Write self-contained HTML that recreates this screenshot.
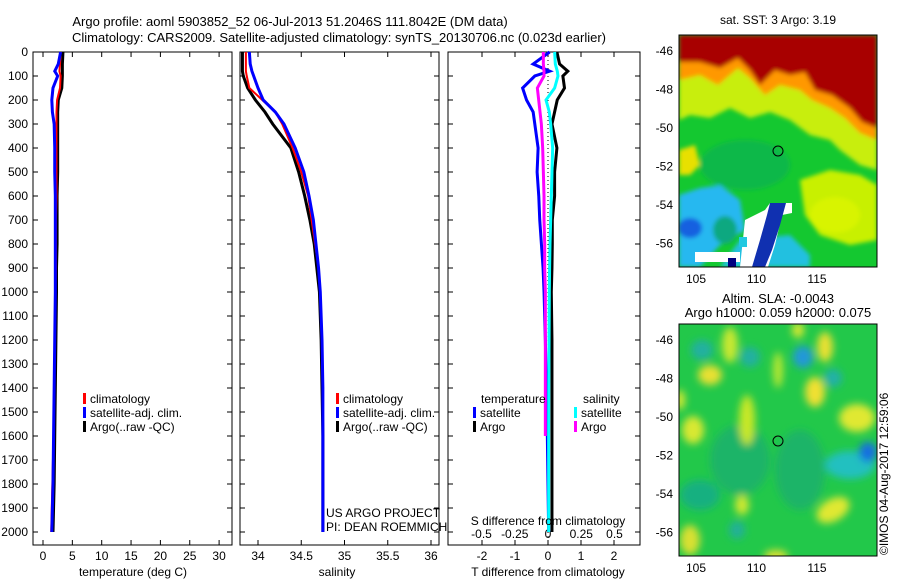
<!DOCTYPE html>
<html><head><meta charset="utf-8"><style>
body{margin:0;background:#fff;}
svg{display:block;font-family:"Liberation Sans",sans-serif;font-size:12px;}
</style></head><body>
<svg id="fig" width="900" height="580" viewBox="0 0 900 580">
<defs>
<filter id="bl" x="-50%" y="-50%" width="200%" height="200%"><feGaussianBlur stdDeviation="4"/></filter>
<filter id="bl2" x="-20%" y="-20%" width="140%" height="140%"><feGaussianBlur stdDeviation="2"/></filter>
<clipPath id="c1"><rect x="679" y="35" width="198" height="232"/></clipPath>
<clipPath id="c2"><rect x="679" y="324" width="198" height="232"/></clipPath>
</defs>
<text x="290" y="26" text-anchor="middle" font-size="13">Argo profile: aoml 5903852_52 06-Jul-2013 51.2046S 111.8042E (DM data)</text>
<text x="339" y="42" text-anchor="middle" font-size="13">Climatology: CARS2009. Satellite-adjusted climatology: synTS_20130706.nc (0.023d earlier)</text>
<g id="plots"></g>
<text x="778" y="24" text-anchor="middle">sat. SST: 3 Argo: 3.19</text>
<g clip-path="url(#c1)">
<rect x="679" y="35" width="198" height="232" fill="#14c830"/>
<g filter="url(#bl2)">
<path d="M679 35H877V170L860 165 840 150 830 140 810 135 790 120 770 112 750 118 730 108 710 118 690 115 679 120Z" fill="#c8ee10"/>
<path d="M679 150L695 145 700 165 690 175 679 175Z" fill="#e8e000"/>
<path d="M800 180L830 170 860 175 877 185V240L850 245 820 235 805 215Z" fill="#c8f000"/>
<ellipse cx="835" cy="215" rx="25" ry="18" fill="#d8f400"/>
<path d="M679 35H877V140L860 133 845 118 830 108 812 100 800 90 780 85 765 95 750 78 738 68 718 85 700 75 679 80Z" fill="#ff9800"/>
<path d="M679 35H877V128L862 122 850 108 832 95 815 90 805 72 790 75 775 70 760 85 750 70 738 58 720 68 700 62 679 62Z" fill="#a80000"/>
<ellipse cx="745" cy="165" rx="45" ry="25" fill="#10b848"/>
<path d="M679 195L700 188 720 185 740 200 745 230 720 245 700 267H679Z" fill="#28b8f0"/>
<ellipse cx="690" cy="228" rx="12" ry="10" fill="#1860e0"/>
<ellipse cx="725" cy="230" rx="12" ry="14" fill="#10a880"/>
<path d="M720 267L740 240 790 235 810 255 810 267Z" fill="#20c0e0"/>
</g>
<path d="M740 267L745 220 765 210 770 203 792 203 792 213 782 215 775 245 768 267Z" fill="#fff"/>
<path d="M695 252H740V262H695Z" fill="#fff"/>
<path d="M770 203L786 203 780 225 772 250 765 267 752 267 760 240 767 215Z" fill="#1030b0"/>
<rect x="728" y="258" width="8" height="9" fill="#000080"/>
<rect x="739" y="237" width="8" height="10" fill="#20c8e0"/>
<circle cx="778" cy="151" r="5" fill="none" stroke="#000"/>
</g>
<rect x="679" y="35" width="198" height="232" fill="none" stroke="#000"/>
<text x="778" y="303" text-anchor="middle" font-size="13">Altim. SLA: -0.0043</text>
<text x="778" y="317" text-anchor="middle" font-size="13">Argo h1000: 0.059 h2000: 0.075</text>
<g clip-path="url(#c2)">
<rect x="679" y="324" width="198" height="232" fill="#22c84a"/>
<g filter="url(#bl)">
<ellipse cx="740" cy="460" rx="30" ry="35" fill="#1cb468"/>
<ellipse cx="800" cy="470" rx="25" ry="40" fill="#1cb468"/>
<ellipse cx="700" cy="495" rx="20" ry="15" fill="#18b080"/>
<ellipse cx="702" cy="350" rx="11" ry="10" fill="#20b0a0"/>
<ellipse cx="710" cy="375" rx="12" ry="10" fill="#e8e030"/>
<ellipse cx="730" cy="345" rx="8" ry="18" fill="#c8e830"/>
<ellipse cx="747" cy="420" rx="8" ry="25" fill="#c8e828"/>
<ellipse cx="693" cy="430" rx="11" ry="14" fill="#d8e830"/>
<ellipse cx="750" cy="357" rx="10" ry="10" fill="#20b0a0"/>
<ellipse cx="803" cy="357" rx="10" ry="11" fill="#2098d8"/>
<ellipse cx="825" cy="347" rx="8" ry="15" fill="#e8e030"/>
<ellipse cx="815" cy="392" rx="10" ry="15" fill="#f0e030"/>
<ellipse cx="833" cy="378" rx="9" ry="9" fill="#20b0a8"/>
<ellipse cx="857" cy="418" rx="18" ry="14" fill="#e0e830"/>
<ellipse cx="850" cy="465" rx="25" ry="14" fill="#20c0c0"/>
<ellipse cx="868" cy="452" rx="9" ry="10" fill="#1870e0"/>
<ellipse cx="833" cy="510" rx="18" ry="11" fill="#e0e830" transform="rotate(-30 833 510)"/>
<ellipse cx="742" cy="505" rx="7" ry="10" fill="#d0e830"/>
<ellipse cx="690" cy="540" rx="10" ry="15" fill="#d8e030"/>
<ellipse cx="737" cy="530" rx="8" ry="9" fill="#20b098"/>
<ellipse cx="776" cy="556" rx="12" ry="6" fill="#e0e030"/>
<ellipse cx="798" cy="330" rx="6" ry="8" fill="#d8e830"/>
<ellipse cx="778" cy="370" rx="5" ry="18" fill="#b8e830"/>
<ellipse cx="680" cy="400" rx="5" ry="10" fill="#d8e830"/>
</g>
<circle cx="778" cy="441" r="5" fill="none" stroke="#000"/>
</g>
<rect x="679" y="324" width="198" height="232" fill="none" stroke="#000"/>
<text transform="translate(888,555) rotate(-90)" font-size="12">©IMOS 04-Aug-2017 12:59:06</text>
</svg>
<script>
// ---- data ----
const depths = [0,50,80,100,150,200,250,300,400,500,600,700,800,900,1000,1200,1400,1600,1800,2000];
const tempClim = [3.0,2.9,2.8,3.0,2.9,2.4,2.3,2.3,2.3,2.3,2.3,2.2,2.2,2.2,2.1,2.0,1.9,1.8,1.6,1.4];
const tempSat  = [3.0,2.6,2.0,2.5,1.7,1.5,1.6,1.9,2.0,2.0,2.1,2.1,2.1,2.1,2.1,2.0,1.9,1.8,1.7,1.5];
const tempArgo = [3.4,3.3,3.3,3.3,3.2,2.6,2.5,2.5,2.5,2.5,2.4,2.4,2.4,2.3,2.3,2.2,2.1,2.0,1.9,1.7];
const salClim  = [33.86,33.86,33.86,33.87,33.90,34.05,34.20,34.28,34.40,34.50,34.58,34.62,34.66,34.70,34.72,34.74,34.75,34.75,34.75,34.75];
const salSat   = [33.90,33.91,33.93,33.95,34.00,34.06,34.20,34.30,34.43,34.53,34.59,34.64,34.67,34.70,34.72,34.74,34.75,34.75,34.75,34.75];
const salArgo  = [33.82,33.82,33.82,33.83,33.88,33.97,34.08,34.17,34.38,34.47,34.54,34.60,34.65,34.68,34.71,34.73,34.74,34.75,34.75,34.75];
const dTsat  = [0.05,-0.45,0.05,-0.4,-0.77,-0.65,-0.45,-0.4,-0.3,-0.33,-0.28,-0.25,-0.2,-0.15,-0.12,-0.08,-0.05,-0.02,0,0.02];
const dTargo = [0.27,0.35,0.6,0.45,0.5,0.28,0.2,0.12,0.27,0.2,0.2,0.13,0.13,0.12,0.1,0.12,0.12,0.12,0.12,0.12];
const dSsat  = [0.05,0.055,0.07,0.075,0.05,-0.015,0.01,0.02,0.035,0.03,0.025,0.02,0.015,0.012,0.01,0.008,0.006,0.005,0.005,0.005];
const dSargo = [-0.035,-0.035,-0.03,-0.03,-0.08,-0.07,-0.06,-0.05,-0.04,-0.035,-0.03,-0.03,-0.025,-0.025,-0.02,-0.02,-0.02,-0.02];
const depthTicks = [0,100,200,300,400,500,600,700,800,900,1000,1100,1200,1300,1400,1500,1600,1700,1800,1900,2000];
const tTicks = [0,5,10,15,20,25,30];
const sTicks = [34,34.5,35,35.5,36];
const dTTicks = [-2,-1,0,1,2];
const dSTicks = [-0.5,-0.25,0,0.25,0.5];
const latTicks = [-46,-48,-50,-52,-54,-56];
const lonTicks = [105,110,115];

const NS='http://www.w3.org/2000/svg';
const g=document.getElementById('plots');
function el(tag,at,parent){const e=document.createElementNS(NS,tag);for(const k in at)e.setAttribute(k,at[k]);(parent||g).appendChild(e);return e;}
const y=d=>52+d*0.24;
const xT=t=>43+t*5.87;
const xS=s=>258+(s-34)*86.5;
const xdT=t=>548+t*33;
const xdS=s=>548+s*133;
function line(vals,xf,color,w,name){
  const p=el('polyline',{points:vals.map((v,i)=>xf(v)+','+y(depths[i])).join(' '),fill:'none',stroke:color,'stroke-width':w});
  
  
}
function frame(x0,x1,name){
  const r=el('rect',{x:x0,y:52,width:x1-x0,height:493,fill:'none',stroke:'#000'});
  
  
  depthTicks.forEach(d=>{el('line',{x1:x0,x2:x0+5,y1:y(d),y2:y(d),stroke:'#000'});el('line',{x1:x1,x2:x1-5,y1:y(d),y2:y(d),stroke:'#000'});});
}
function txt(x,yy,s,name,anchor){const t=el('text',{x:x,y:yy,'text-anchor':anchor||'start'});t.textContent=s;

return t;}
// panel 1
frame(33,232,'temperature-panel');
depthTicks.forEach(d=>txt(28,y(d)+4,d,'depth-tick-label','end'));
tTicks.forEach(v=>{el('line',{x1:xT(v),x2:xT(v),y1:52,y2:57,stroke:'#000'});el('line',{x1:xT(v),x2:xT(v),y1:545,y2:540,stroke:'#000'});
txt(xT(v),560,v,'temperature-tick-label','middle');});
line(tempArgo,xT,'#000',3,'temp-argo-line');
line(tempClim,xT,'#f00',2,'temp-climatology-line');
line(tempSat,xT,'#00f',3,'temp-satellite-line');
// panel 2
frame(240,439,'salinity-panel');
sTicks.forEach(v=>{el('line',{x1:xS(v),x2:xS(v),y1:52,y2:57,stroke:'#000'});el('line',{x1:xS(v),x2:xS(v),y1:545,y2:540,stroke:'#000'});
txt(xS(v),560,v,'salinity-tick-label','middle');});
line(salArgo,xS,'#000',3,'sal-argo-line');
line(salClim,xS,'#f00',2,'sal-climatology-line');
line(salSat,xS,'#00f',3,'sal-satellite-line');
// panel 3
frame(448,640,'difference-panel');
el('line',{x1:548,x2:548,y1:52,y2:545,stroke:'#000','stroke-dasharray':'1,3'});
dTTicks.forEach(v=>{el('line',{x1:xdT(v),x2:xdT(v),y1:52,y2:57,stroke:'#000'});el('line',{x1:xdT(v),x2:xdT(v),y1:545,y2:540,stroke:'#000'});
txt(xdT(v),560,v,'t-diff-tick-label','middle');});
dSTicks.forEach(v=>txt(xdS(v),538,v,'s-diff-tick-label','middle'));
line(dTargo,xdT,'#000',3,'dT-argo-line');
line(dTsat,xdT,'#00f',3,'dT-satellite-line');
line(dSsat,xdS,'#0ff',3,'dS-satellite-line');
line(dSargo,xdS,'#f0f',3,'dS-argo-line');
// labels
txt(133,576,'temperature (deg C)','x-axis-title-temperature','middle');
txt(337,576,'salinity','x-axis-title-salinity','middle');
txt(548,576,'T difference from climatology','x-axis-title-t-diff','middle');
txt(548,525,'S difference from climatology','x-axis-title-s-diff','middle');
txt(326,517,'US ARGO PROJECT','project-label');
txt(326,531,'PI: DEAN ROEMMICH','pi-label');
function leg(x,yy,color,s,name){const r=el('rect',{x:x,y:yy-10,width:3,height:11,fill:color});


txt(x+7,yy,s,name);}
leg(83,403,'#f00','climatology','legend-climatology');
leg(83,417,'#00f','satellite-adj. clim.','legend-satellite');
leg(83,431,'#000','Argo(..raw -QC)','legend-argo');
leg(336,403,'#f00','climatology','legend-sal-climatology');
leg(336,417,'#00f','satellite-adj. clim.','legend-sal-satellite');
leg(336,431,'#000','Argo(..raw -QC)','legend-sal-argo');
txt(481,403,'temperature','legend-temperature-header');
leg(473,417,'#00f','satellite','legend-t-satellite');
leg(473,431,'#000','Argo','legend-t-argo');
txt(583,403,'salinity','legend-salinity-header');
leg(574,417,'#0ff','satellite','legend-s-satellite');
leg(574,431,'#f0f','Argo','legend-s-argo');
// map axes
function mapAxes(top,bottom,lat46,name){
  latTicks.forEach(l=>{const yy=lat46+(-l-46)*19.25;
  el('line',{x1:872,x2:877,y1:yy,y2:yy,stroke:'#000'});
  txt(673,yy+4,l,name+'-lat-label','end');});
  lonTicks.forEach(l=>{const xx=696+(l-105)*12.1;
  el('line',{x1:xx,x2:xx,y1:top,y2:top+4,stroke:'#000'});
  txt(xx,bottom+16,l,name+'-lon-label','middle');});
}
mapAxes(35,267,51,'sst-map');
mapAxes(324,556,340,'altim-map');
</script>
</body></html>
